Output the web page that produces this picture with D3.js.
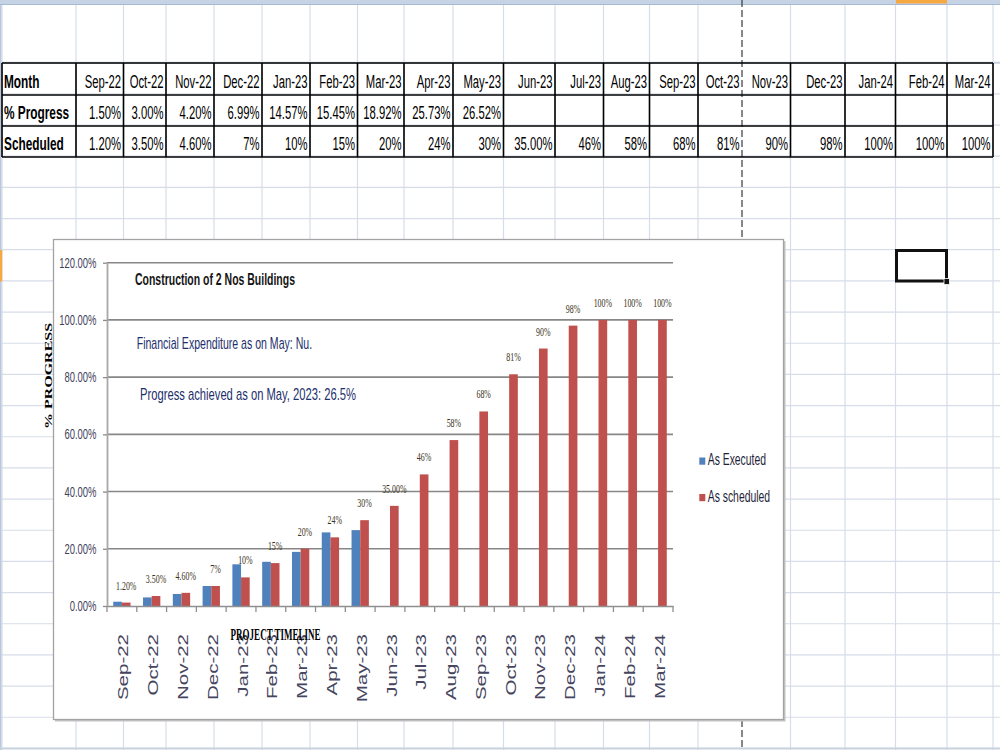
<!DOCTYPE html>
<html><head><meta charset="utf-8">
<script src="https://cdn.jsdelivr.net/npm/d3@7"></script>
<style>html,body{margin:0;padding:0;background:#fff;overflow:hidden}</style>
</head><body><svg id="c" width="1000" height="750"></svg>
<script>
// ---------------- data ----------------
const months = ["Sep-22","Oct-22","Nov-22","Dec-22","Jan-23","Feb-23","Mar-23","Apr-23","May-23","Jun-23","Jul-23","Aug-23","Sep-23","Oct-23","Nov-23","Dec-23","Jan-24","Feb-24","Mar-24"];
const progress = [1.50,3.00,4.20,6.99,14.57,15.45,18.92,25.73,26.52,null,null,null,null,null,null,null,null,null,null];
const progressLabels = ["1.50%","3.00%","4.20%","6.99%","14.57%","15.45%","18.92%","25.73%","26.52%","","","","","","","","","",""];
const scheduled = [1.2,3.5,4.6,7,10,15,20,24,30,35,46,58,68,81,90,98,100,100,100];
const scheduledLabels = ["1.20%","3.50%","4.60%","7%","10%","15%","20%","24%","30%","35.00%","46%","58%","68%","81%","90%","98%","100%","100%","100%"];
const rowTitles = ["Month","% Progress","Scheduled"];
const seriesNames = ["As Executed","As scheduled"];
const seriesKeys = ["exec","sched"];
const seriesColors = ["#4F81BD","#C0504D"];
const yTicks = [0,20,40,60,80,100,120];
const notes = ["Construction of 2 Nos Buildings","Financial Expenditure as on May: Nu.","Progress achieved as on May, 2023: 26.5%"];
const yTitle = "% PROGRESS";
const xTitle = "PROJECT TIMELINE";

// ---------------- layout ----------------
const colEdges = [2,76,123.5,166,214,262,310,357.5,404,453,503.5,555,603.5,649.5,698,742,790.5,845,895.5,947,993];
const tableRows = [63,95,126,157];
const rowBase = [88,118.5,149.5];
const sheetRowH = 31.17, sheetRow0 = 62.7;

const svg = d3.select("#c");
const SANS = "'Liberation Sans', Arial, sans-serif";
const SERIF = "'Liberation Serif', 'Times New Roman', serif";

function sq(g, str, x, y, o) {
  return g.append("text")
    .attr("transform", `translate(${x},${y}) scale(${o.sx},1)` + (o.rot ? ` rotate(${o.rot})` : ""))
    .attr("text-anchor", o.anchor || "start")
    .style("font-family", o.ff || SANS)
    .style("font-size", o.fs + "px")
    .style("font-weight", o.fw || "normal")
    .attr("fill", o.fill || "#000")
    .text(str);
}

// ---------------- sheet background ----------------
const sheet = svg.append("g");
sheet.append("rect").attr("x",0).attr("y",0).attr("width",1000).attr("height",750).attr("fill","#fff");
// row lines
for (let k = 0; k < 24; k++) {
  const yy = sheetRow0 + k * sheetRowH;
  sheet.append("line").attr("x1",0).attr("x2",1000).attr("y1",yy).attr("y2",yy)
    .attr("stroke", k === 0 ? "#c4cfdf" : "#d6dde9").attr("stroke-width", k === 0 ? 2 : 1.2);
}
// column lines
colEdges.forEach((cx, i) => {
  if (i === 15) return;
  sheet.append("line").attr("x1",cx).attr("x2",cx).attr("y1",0).attr("y2",750)
    .attr("stroke","#d6dde9").attr("stroke-width",1.2);
});
sheet.append("line").attr("x1",0.7).attr("x2",0.7).attr("y1",0).attr("y2",750).attr("stroke","#b9c8dc").attr("stroke-width",1.4);
// header band
sheet.append("rect").attr("x",0).attr("y",0).attr("width",1000).attr("height",4).attr("fill","#c6d3e5");
sheet.append("line").attr("x1",0).attr("x2",1000).attr("y1",4.5).attr("y2",4.5).attr("stroke","#a7b9d2").attr("stroke-width",1);
sheet.append("rect").attr("x",896).attr("y",0).attr("width",51).attr("height",3.5).attr("fill","#f5a940");
sheet.append("rect").attr("x",0).attr("y",250).attr("width",2.2).attr("height",31.5).attr("fill","#f5a940");
sheet.append("line").attr("x1",0).attr("x2",1000).attr("y1",748.5).attr("y2",748.5).attr("stroke","#c9d2df").attr("stroke-width",2);
// page break
sheet.append("line").attr("x1",742).attr("x2",742).attr("y1",0).attr("y2",750)
  .attr("stroke","#3a3a3a").attr("stroke-width",1.2).attr("stroke-dasharray","7,3");

// selected cell
sheet.append("rect").attr("x",896.5).attr("y",250.5).attr("width",50).attr("height",30.5)
  .attr("fill","none").attr("stroke","#111").attr("stroke-width",3);
sheet.append("rect").attr("x",944).attr("y",278.5).attr("width",5.5).attr("height",6).attr("fill","#111").attr("stroke","#fff").attr("stroke-width",0.8);

// ---------------- table ----------------
const tbl = svg.append("g");
tableRows.forEach(ry => {
  tbl.append("line").attr("x1",colEdges[0]).attr("x2",colEdges[colEdges.length-1]).attr("y1",ry).attr("y2",ry)
    .attr("stroke","#000").attr("stroke-width",1.6);
});
colEdges.forEach((cx, i) => {
  if (i === 15) return;
  tbl.append("line").attr("x1",cx).attr("x2",cx).attr("y1",tableRows[0]).attr("y2",tableRows[3])
    .attr("stroke","#000").attr("stroke-width",1.6);
});
rowTitles.forEach((t, r) => sq(tbl, t, 4, rowBase[r], {fs:18.5, sx:0.64, fw:"bold"}));
const rowsData = [months, progressLabels, scheduledLabels];
rowsData.forEach((arr, r) => {
  arr.forEach((s, i) => {
    if (!s) return;
    sq(tbl, s, colEdges[i+2] - 2.5, rowBase[r], {fs:18.5, sx:0.61, anchor:"end"});
  });
});

// ---------------- chart ----------------
const ch = svg.append("g");
ch.append("rect").attr("x",55).attr("y",241).attr("width",730.5).attr("height",480.5).attr("fill","#c4c4c4");
ch.append("rect").attr("x",53.5).attr("y",239.5).attr("width",730).attr("height",480).attr("fill","#fff")
  .attr("stroke","#a3a3a3").attr("stroke-width",1.3);

const x = d3.scaleBand().domain(months).range([107, 673]);
const xs = d3.scaleBand().domain(seriesKeys).range([0, x.bandwidth()]).paddingOuter(0.72);
const y = d3.scaleLinear().domain([0, 120]).range([606, 262.7]);

// gridlines
ch.append("g").selectAll("line").data(yTicks.filter(t => t > 0)).join("line")
  .attr("x1", 107).attr("x2", 673).attr("y1", d => y(d)).attr("y2", d => y(d))
  .attr("stroke", "#878787").attr("stroke-width", 1.6);

// y axis
const ya = ch.append("g").attr("transform","translate(107,0)")
  .call(d3.axisLeft(y).tickValues(yTicks).tickSize(4).tickSizeOuter(0).tickFormat(d => d.toFixed(2) + "%"));
ya.select(".domain").attr("stroke","#a8a8a8").attr("stroke-width",1.8);
ya.selectAll(".tick line").attr("stroke","#8a8a8a").attr("stroke-width",1.3);
ya.selectAll(".tick text").attr("x",null).attr("dy",null).attr("text-anchor","end")
  .attr("transform","translate(-10.5,4.5) scale(0.675,1)")
  .style("font-family",SANS).style("font-size","14px").attr("fill","#3f3f5c");

// bars
const bars = ch.append("g");
months.forEach((m, i) => {
  const vals = [progress[i], scheduled[i]];
  vals.forEach((v, s) => {
    if (v == null) return;
    bars.append("rect")
      .attr("x", x(m) + xs(seriesKeys[s])).attr("width", xs.bandwidth())
      .attr("y", y(v)).attr("height", y(0) - y(v))
      .attr("fill", seriesColors[s]);
  });
});

// x axis
const xa = ch.append("g").attr("transform","translate(0,606)")
  .call(d3.axisBottom(x).tickSize(0).tickSizeOuter(0));
xa.select(".domain").attr("stroke","#8f8f8f").attr("stroke-width",1.6);
xa.selectAll(".tick text").attr("x",null).attr("y",null).attr("dy",null).attr("text-anchor","end")
  .attr("transform","translate(6.5,28) scale(0.73,1) rotate(-90)")
  .style("font-family",SANS).style("font-size","20.5px").attr("fill","#45455e");
ch.append("g").selectAll("line").data(months.map(m => x(m)).concat([x.range()[1]])).join("line")
  .attr("x1", d => d).attr("x2", d => d).attr("y1", 606).attr("y2", 612)
  .attr("stroke","#8f8f8f").attr("stroke-width",1.3);

// data labels (scheduled)
const lab = ch.append("g");
months.forEach((m, i) => {
  sq(lab, scheduledLabels[i], x(m) + xs("sched") + xs.bandwidth()/2, y(scheduled[i]) - 13,
     {fs:12, sx:0.66, ff:SERIF, anchor:"middle", fill:"#3b3322"});
});

// notes
sq(ch, notes[0], 135, 285.3, {fs:16.5, sx:0.635, fw:"bold", fill:"#141414"});
sq(ch, notes[1], 136.7, 348.5, {fs:16, sx:0.66, fill:"#1d2f6c"});
sq(ch, notes[2], 140, 399.5, {fs:17, sx:0.66, fill:"#1d2f6c"});

// axis titles
sq(ch, yTitle, 52, 376, {fs:16, sx:0.62, fw:"bold", ff:SERIF, anchor:"middle", rot:-90});
sq(ch, xTitle, 275.6, 640, {fs:17, sx:0.53, fw:"bold", ff:SERIF, anchor:"middle"});

// legend
const lg = ch.append("g");
const legY = [465, 501.5];
seriesNames.forEach((n, s) => {
  lg.append("rect").attr("x",699.3).attr("y",legY[s] - 7.5).attr("width",6).attr("height",7.2).attr("fill",seriesColors[s]);
  sq(lg, n, 707.7, legY[s], {fs:16, sx:0.65, fill:"#1f1f3a"});
});
</script>
</body></html>
